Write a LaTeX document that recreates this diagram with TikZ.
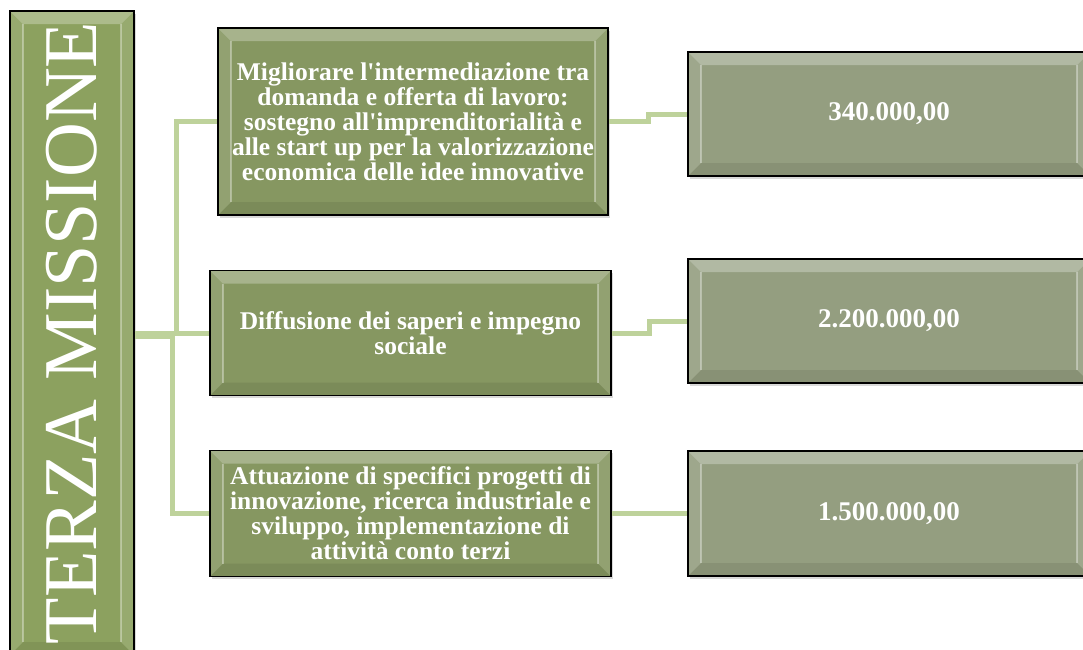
\documentclass[tikz,border=0pt]{standalone}
\usepackage{fontspec}
\setmainfont{Liberation Serif}
\usetikzlibrary{calc,shadows}
\definecolor{titlegreen}{RGB}{140,161,95}
\definecolor{midgreen}{RGB}{134,151,97}
\definecolor{sidegreen}{RGB}{148,158,128}
\definecolor{linkgreen}{RGB}{190,210,155}
\tikzset{
  bevel/.style={path picture={
    \coordinate (bnw) at (path picture bounding box.north west);
    \coordinate (bne) at (path picture bounding box.north east);
    \coordinate (bsw) at (path picture bounding box.south west);
    \coordinate (bse) at (path picture bounding box.south east);
    \fill[white,opacity=.28] (bnw) -- (bne) -- ([shift={(-13pt,-13pt)}]bne) -- ([shift={(13pt,-13pt)}]bnw) -- cycle;
    \fill[black,opacity=.08] (bsw) -- (bse) -- ([shift={(-13pt,13pt)}]bse) -- ([shift={(13pt,13pt)}]bsw) -- cycle;
    \fill[white,opacity=.10] (bnw) -- ([shift={(13pt,-13pt)}]bnw) -- ([shift={(13pt,13pt)}]bsw) -- (bsw) -- cycle;
    \fill[white,opacity=.10] (bne) -- ([shift={(-13pt,-13pt)}]bne) -- ([shift={(-13pt,13pt)}]bse) -- (bse) -- cycle;
    \draw[white,opacity=.35,line width=1.2pt] ([shift={(13pt,-13pt)}]bnw) -- ([shift={(13pt,13pt)}]bsw);
    \draw[white,opacity=.35,line width=1.2pt] ([shift={(-13pt,-13pt)}]bne) -- ([shift={(-13pt,13pt)}]bse);
  }},
  panel/.style={draw=black, line width=1.6pt, bevel, text=white, align=center, inner sep=0pt,
    drop shadow={shadow xshift=1.5pt, shadow yshift=-2.5pt, opacity=.3}},
  titlebox/.style={panel, fill=titlegreen, minimum width=124, minimum height=644},
  titletext/.style={rotate=90, text=white, font=\fontsize{76}{80}\selectfont, inner sep=0pt},
  midbox/.style={panel, fill=midgreen, minimum width=401, minimum height=125,
    font=\bfseries\fontsize{25.5}{25}\selectfont},
  sidebox/.style={panel, fill=sidegreen, minimum width=402, minimum height=124,
    font=\bfseries\fontsize{27}{30}\selectfont},
  link/.style={draw=linkgreen, line width=5pt},
}
\begin{document}
\begin{tikzpicture}[x=1pt, y=1pt]
\useasboundingbox (0,0) rectangle (1083,-649);
\node[titlebox] (P_0_0) at (72,-333) {};
\node[titletext] (P_0_1) at (P_0_0) {TERZA MISSIONE};
\node[midbox, minimum width=390, minimum height=187] (P_1_0) at (413,-121.5)
  {Migliorare l\textquotesingle intermediazione tra\\domanda e offerta di lavoro:\\sostegno all\textquotesingle imprenditorialità e\\alle start up per la valorizzazione\\economica delle idee innovative};
\node[midbox] (P_1_1) at (410.5,-333) {Diffusione dei saperi e impegno\\sociale};
\node[midbox, minimum height=126] (P_1_2) at (410.5,-513.5)
  {Attuazione di specifici progetti di\\innovazione, ricerca industriale e\\sviluppo, implementazione di\\attività conto terzi};
\node[sidebox] (P_2_0) at (889,-114) {340.000,00};
\node[sidebox] (P_2_1) at (889,-321) {2.200.000,00};
\node[sidebox, minimum height=125] (P_2_2) at (889,-513.5) {1.500.000,00};
% left links
\draw[link] (P_0_0.east) -- ++(42,0) |- (P_1_0.west);
\draw[link] (P_0_0.east) -- (P_1_1.west);
\draw[link] (P_0_0.east) ++(0,-3) -- ++(38,0) |- (P_1_2.west);
% right links
\draw[link] (P_1_0.east) -| ($(P_1_0.east)!0.5!(P_2_0.west)$) |- (P_2_0.west);
\draw[link] (P_1_1.east) -| ($(P_1_1.east)!0.5!(P_2_1.west)$) |- (P_2_1.west);
\draw[link] (P_1_2.east) -- (P_2_2.west);
\end{tikzpicture}
\end{document}
